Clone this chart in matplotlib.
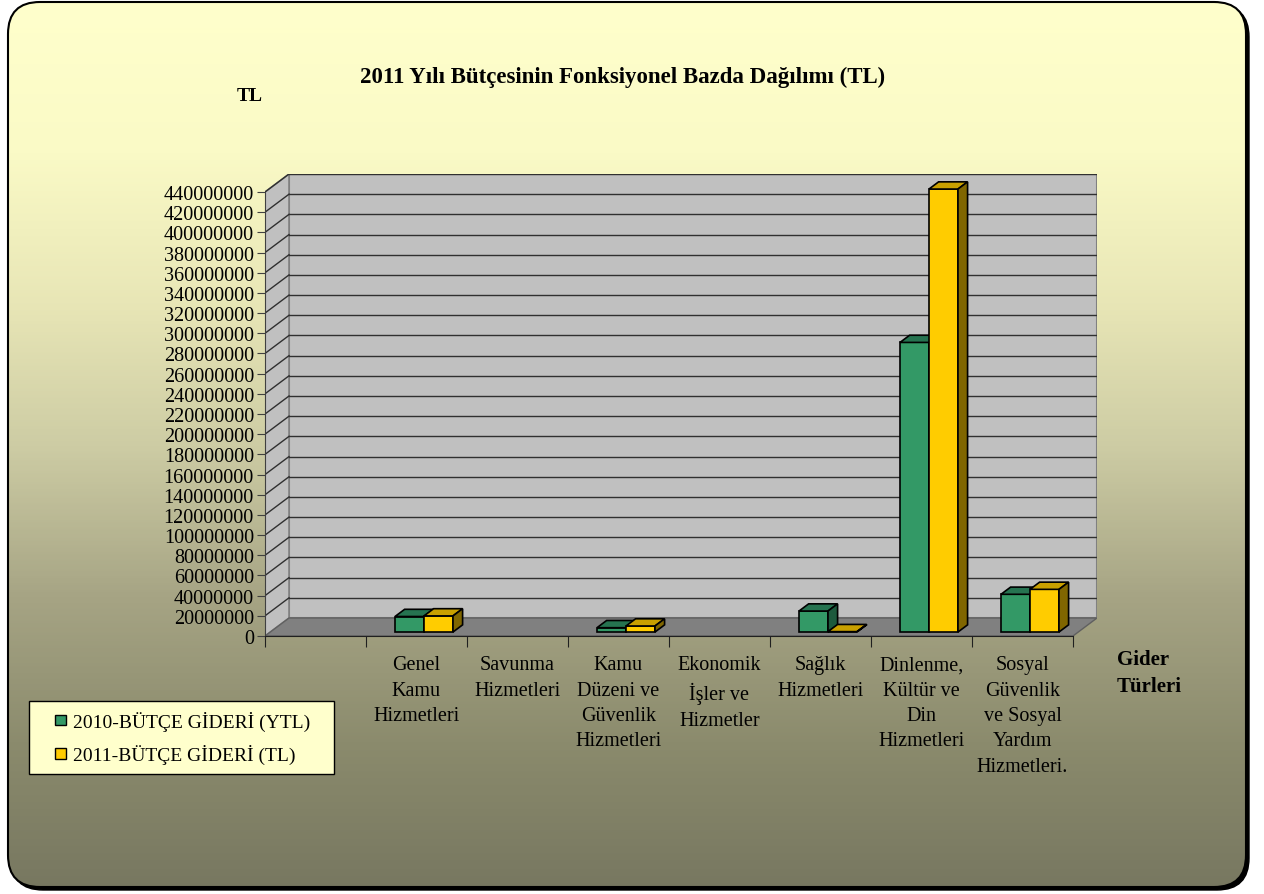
import numpy as np
import matplotlib
matplotlib.use('Agg')
import matplotlib.pyplot as plt
from matplotlib.patches import FancyBboxPatch, Polygon, Patch, Rectangle
from matplotlib.legend_handler import HandlerPatch
from matplotlib.colors import LinearSegmentedColormap

# dati
kategoriler = ['',
               'Genel\nKamu\nHizmetleri',
               'Savunma\nHizmetleri',
               'Kamu\nDüzeni ve\nGüvenlik\nHizmetleri',
               'Ekonomik\nİşler ve\nHizmetler',
               'Sağlık\nHizmetleri',
               'Dinlenme,\nKültür ve\nDin\nHizmetleri',
               'Sosyal\nGüvenlik\nve Sosyal\nYardım\nHizmetleri.']
gider_2010 = [0, 15.4e6, 0, 4.3e6, 0, 20.8e6, 287e6, 37.4e6]
gider_2011 = [0, 16.0e6, 0, 6.0e6, 0, 0.4e6, 439e6, 42.3e6]
seri_isimleri = ['2010-BÜTÇE GİDERİ (YTL)', '2011-BÜTÇE GİDERİ (TL)']
y_ticks = np.arange(0, 440e6 + 1, 20e6)

plt.rcParams['font.family'] = 'Liberation Serif'

W, H = 1264, 895
fig = plt.figure(figsize=(W / 100, H / 100), dpi=100)
fig.patch.set_facecolor('white')

# sfondo con gradiente e angoli arrotondati
bg = fig.add_axes([0, 0, 1, 1])
bg.set_xlim(0, W)
bg.set_ylim(H, 0)
bg.axis('off')
shadow = FancyBboxPatch((11, 6), 1238, 885, boxstyle='round,pad=0,rounding_size=32',
                        facecolor='black', edgecolor='black', zorder=1)
bg.add_patch(shadow)
frame = FancyBboxPatch((8, 3), 1238, 885, boxstyle='round,pad=0,rounding_size=32',
                       facecolor='none', edgecolor='black', linewidth=1.5, zorder=3)
bg.add_patch(frame)
cmap_bg = LinearSegmentedColormap.from_list('bg', [
    (0.0, '#FFFFCC'), (0.17, '#FAFAC6'), (0.34, '#E8E6B6'), (0.5, '#CDCCA4'),
    (0.67, '#A6A484'), (0.84, '#8A8A6C'), (1.0, '#777760')])
grad = np.linspace(0, 1, 400).reshape(-1, 1)
im = bg.imshow(grad, cmap=cmap_bg, extent=(0, W, H, 0), aspect='auto', zorder=2)
clip = FancyBboxPatch((8, 3), 1238, 885, boxstyle='round,pad=0,rounding_size=32',
                      facecolor='none', edgecolor='none', transform=bg.transData)
bg.add_patch(clip)
im.set_clip_path(clip)

# assi del grafico (piano frontale + profondita)
n = len(kategoriler)
slot_px = (1072 - 265) / n
px_per_val = 444 / 440e6
DX = 24 / slot_px
DY = 18 / px_per_val
ymax = 440e6
ax = fig.add_axes([265 / W, 1 - 637 / H, (1097 - 265) / W, (637 - 175) / H])
ax.set_xlim(0, n + DX)
ax.set_ylim(0, ymax + DY)
ax.patch.set_alpha(0)
for s in ['top', 'right']:
    ax.spines[s].set_visible(False)
ax.spines['left'].set_bounds(0, ymax)
ax.spines['bottom'].set_bounds(0, n)
ax.spines['left'].set_color('#404040')
ax.spines['bottom'].set_color('#202020')

gray_edge = '#808080'
# parete posteriore, laterale e pavimento
ax.add_patch(Polygon([(DX, DY), (n + DX, DY), (n + DX, ymax + DY), (DX, ymax + DY)],
                     closed=True, facecolor='#C0C0C0', edgecolor=gray_edge, linewidth=1.5, zorder=1))
ax.add_patch(Polygon([(0, 0), (DX, DY), (DX, ymax + DY), (0, ymax)],
                     closed=True, facecolor='#C0C0C0', edgecolor=gray_edge, linewidth=1.2, zorder=1))
ax.add_patch(Polygon([(0, 0), (n, 0), (n + DX, DY), (DX, DY)],
                     closed=True, facecolor='#808080', edgecolor='#606060', linewidth=1, zorder=1))
for yv in y_ticks[1:]:
    ax.plot([DX, n + DX], [yv + DY, yv + DY], color='#303030', linewidth=1, zorder=2)
    ax.plot([0, DX], [yv, yv + DY], color='#303030', linewidth=1, zorder=2)

# barre pseudo 3D
T0, T1 = 0.22, 0.62
OFF, BW = 0.235, 0.287
colori = [('#339966', '#267350', '#1D5A3D'), ('#FFCC00', '#C9A000', '#806600')]
zo = 3
for i in range(n):
    for k, vals in enumerate([gider_2010, gider_2011]):
        v = vals[i]
        if v == 0:
            continue
        front, top, side = colori[k]
        xl = i + OFF + k * BW + DX * T0
        xr = xl + BW
        y0 = DY * T0
        sx = DX * (T1 - T0)
        sy = DY * (T1 - T0)
        ax.bar(xl, v, width=BW, bottom=y0, align='edge', color=front,
               edgecolor='black', linewidth=1.2, zorder=zo)
        ax.add_patch(Polygon([(xl, y0 + v), (xr, y0 + v), (xr + sx, y0 + v + sy), (xl + sx, y0 + v + sy)],
                             closed=True, facecolor=top, edgecolor='black', linewidth=1.2, zorder=zo))
        ax.add_patch(Polygon([(xr, y0), (xr, y0 + v), (xr + sx, y0 + v + sy), (xr + sx, y0 + sy)],
                             closed=True, facecolor=side, edgecolor='black', linewidth=1.2, zorder=zo))
        zo += 1

ax.set_yticks(y_ticks)
ax.yaxis.set_major_formatter(matplotlib.ticker.FuncFormatter(lambda v, p: '%d' % round(v)))
ax.tick_params(axis='y', labelsize=14.5, length=6, color='#404040', pad=2)
ax.set_xticks(np.arange(n + 1))
ax.set_xticklabels([])
ax.tick_params(axis='x', which='major', length=8, color='#202020')
ax.set_xticks(np.arange(n) + 0.5, minor=True)
ax.set_xticklabels(kategoriler, minor=True, fontsize=14.5, linespacing=1.45)
ax.tick_params(axis='x', which='minor', length=0, pad=14)

# testi
fig.text(623 / W, 1 - 77 / H, '2011 Yılı Bütçesinin Fonksiyonel Bazda Dağılımı (TL)',
         ha='center', va='center', fontsize=16.5, fontweight='bold')
fig.text(250 / W, 1 - 97 / H, 'TL', ha='center', va='center', fontsize=14, fontweight='bold')
fig.text(1117 / W, 1 - 650 / H, 'Gider\nTürleri', ha='left', va='top', fontsize=15,
         fontweight='bold', linespacing=1.45)


# legenda
def quadratino(legend, orig_handle, xdescent, ydescent, width, height, fontsize):
    s = 0.55 * fontsize
    return Rectangle((width - s - xdescent, (height - s) / 2 - ydescent), s, s)


handles = [Patch(facecolor=colori[0][0], edgecolor='black'),
           Patch(facecolor=colori[1][0], edgecolor='black')]
leg = fig.legend(handles, [t + '   ' for t in seri_isimleri], loc='upper left',
                 bbox_to_anchor=(29 / W, 1 - 702 / H),
                 fontsize=14, frameon=True, fancybox=False, borderaxespad=0,
                 handlelength=1.4, handleheight=0.7, handletextpad=0.35,
                 borderpad=0.5, labelspacing=0.7,
                 handler_map={Patch: HandlerPatch(patch_func=quadratino)})
leg.get_frame().set_facecolor('#FFFFCC')
leg.get_frame().set_edgecolor('black')
leg.get_frame().set_alpha(1)

fig.savefig('out.png', dpi=100, facecolor='white')
